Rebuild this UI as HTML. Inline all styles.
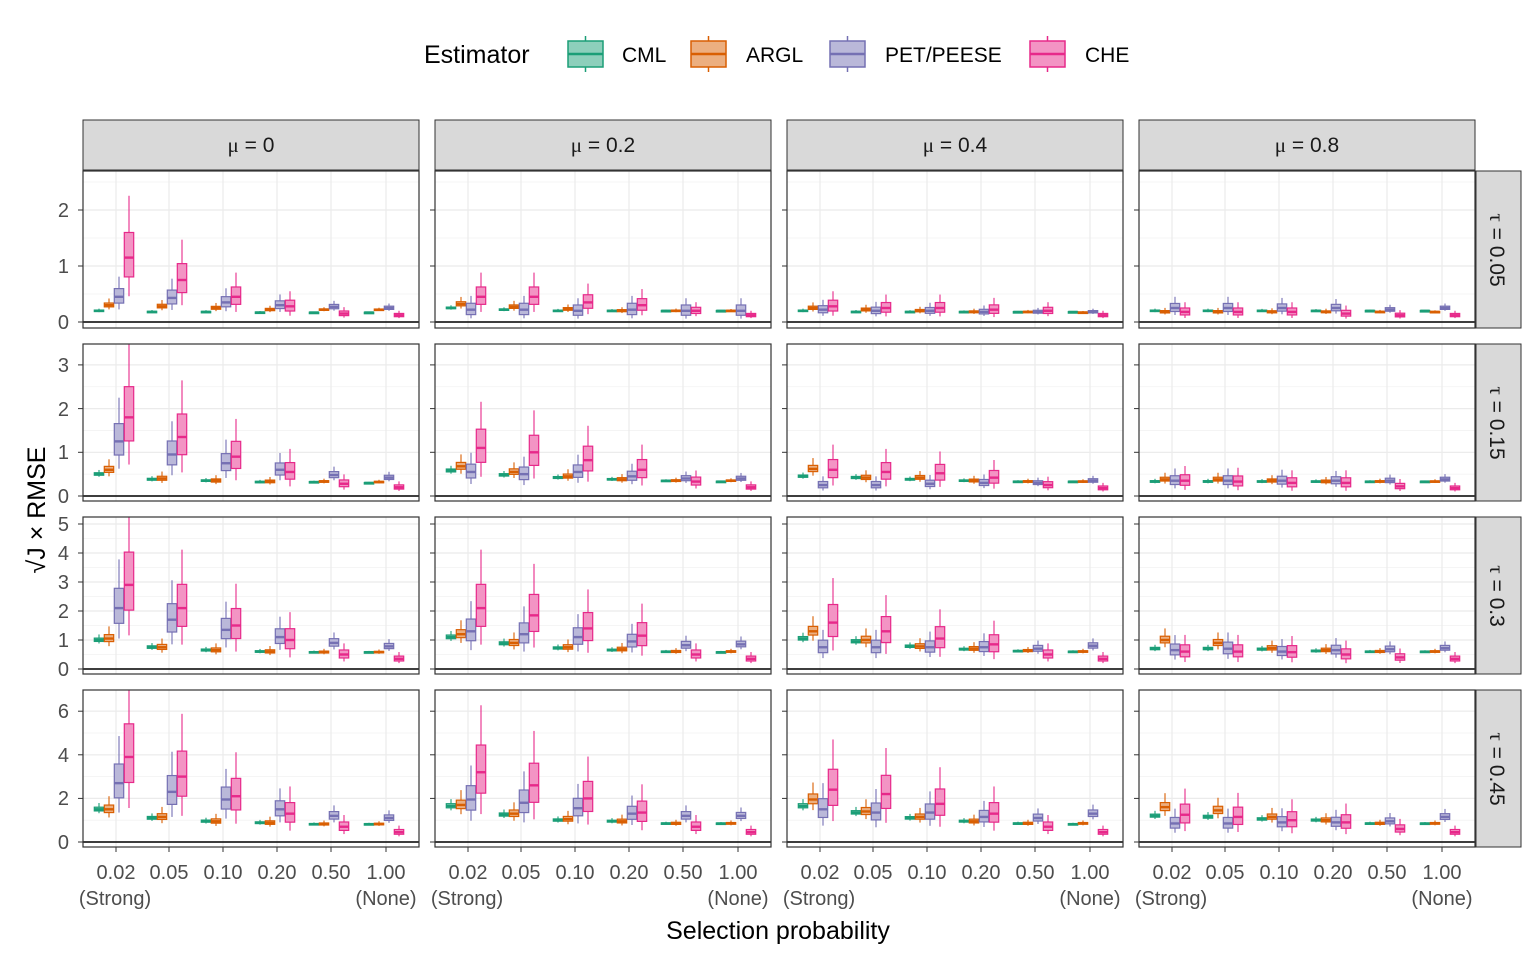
<!DOCTYPE html>
<html><head><meta charset="utf-8">
<style>
html,body{margin:0;padding:0;background:#fff;}
svg{display:block;font-family:"Liberation Sans",sans-serif;}
</style></head>
<body>
<svg id="s" width="1536" height="960" xmlns="http://www.w3.org/2000/svg">
<rect width="1536" height="960" fill="#fff"/>
<defs id="defs"></defs>
<g id="grid"></g>
<g id="boxes"></g>
<g id="frames"></g>
<!-- legend -->
<text x="424" y="63" font-size="25" fill="#000">Estimator</text>
<g stroke-width="1.5">
<rect x="568" y="41" width="35" height="26" fill="#8dcfbb" stroke="#1b9e77"/><line x1="568" y1="54" x2="603" y2="54" stroke="#1b9e77" stroke-width="2.5"/><line x1="585.5" y1="36" x2="585.5" y2="41" stroke="#1b9e77"/><line x1="585.5" y1="67" x2="585.5" y2="72" stroke="#1b9e77"/>
<rect x="691" y="41" width="35" height="26" fill="#ecaf80" stroke="#d95f02"/><line x1="691" y1="54" x2="726" y2="54" stroke="#d95f02" stroke-width="2.5"/><line x1="708.5" y1="36" x2="708.5" y2="41" stroke="#d95f02"/><line x1="708.5" y1="67" x2="708.5" y2="72" stroke="#d95f02"/>
<rect x="830" y="41" width="35" height="26" fill="#bab8d9" stroke="#7570b3"/><line x1="830" y1="54" x2="865" y2="54" stroke="#7570b3" stroke-width="2.5"/><line x1="847.5" y1="36" x2="847.5" y2="41" stroke="#7570b3"/><line x1="847.5" y1="67" x2="847.5" y2="72" stroke="#7570b3"/>
<rect x="1030" y="41" width="35" height="26" fill="#f394c4" stroke="#e7298a"/><line x1="1030" y1="54" x2="1065" y2="54" stroke="#e7298a" stroke-width="2.5"/><line x1="1047.5" y1="36" x2="1047.5" y2="41" stroke="#e7298a"/><line x1="1047.5" y1="67" x2="1047.5" y2="72" stroke="#e7298a"/>
</g>
<g font-size="21" fill="#000">
<text x="622" y="62">CML</text><text x="746" y="62">ARGL</text><text x="885" y="62">PET/PEESE</text><text x="1085" y="62">CHE</text>
</g>
<!-- strips -->
<g fill="#d9d9d9" stroke="#333" stroke-width="1">
<rect x="83" y="120" width="336" height="50"/><rect x="435" y="120" width="336" height="50"/><rect x="787" y="120" width="336" height="50"/><rect x="1139" y="120" width="336" height="50"/>
<rect x="1476" y="171" width="45" height="157"/><rect x="1476" y="344" width="45" height="157"/><rect x="1476" y="517" width="45" height="157"/><rect x="1476" y="690" width="45" height="157"/>
</g>
<g font-size="21" fill="#1a1a1a" text-anchor="middle">
<text x="251" y="152"><tspan font-family="Liberation Serif,serif">μ</tspan> = 0</text>
<text x="603" y="152"><tspan font-family="Liberation Serif,serif">μ</tspan> = 0.2</text>
<text x="955" y="152"><tspan font-family="Liberation Serif,serif">μ</tspan> = 0.4</text>
<text x="1307" y="152"><tspan font-family="Liberation Serif,serif">μ</tspan> = 0.8</text>
<text transform="translate(1490,250) rotate(90)"><tspan font-family="Liberation Serif,serif">τ</tspan> = 0.05</text>
<text transform="translate(1490,423) rotate(90)"><tspan font-family="Liberation Serif,serif">τ</tspan> = 0.15</text>
<text transform="translate(1490,596) rotate(90)"><tspan font-family="Liberation Serif,serif">τ</tspan> = 0.3</text>
<text transform="translate(1490,769) rotate(90)"><tspan font-family="Liberation Serif,serif">τ</tspan> = 0.45</text>
</g>
<g font-size="20" fill="#4d4d4d" text-anchor="end">
<text x="69" y="329">0</text><text x="69" y="273">1</text><text x="69" y="217">2</text>
<text x="69" y="503">0</text><text x="69" y="459">1</text><text x="69" y="416">2</text><text x="69" y="372">3</text>
<text x="69" y="676">0</text><text x="69" y="647">1</text><text x="69" y="618">2</text><text x="69" y="589">3</text><text x="69" y="560">4</text><text x="69" y="531">5</text>
<text x="69" y="849">0</text><text x="69" y="805">2</text><text x="69" y="762">4</text><text x="69" y="718">6</text>
</g>
<g font-size="20" fill="#4d4d4d" text-anchor="middle">
<text x="116" y="879">0.02</text><text x="169" y="879">0.05</text><text x="223" y="879">0.10</text><text x="277" y="879">0.20</text><text x="331" y="879">0.50</text><text x="386" y="879">1.00</text>
<text x="468" y="879">0.02</text><text x="521" y="879">0.05</text><text x="575" y="879">0.10</text><text x="629" y="879">0.20</text><text x="683" y="879">0.50</text><text x="738" y="879">1.00</text>
<text x="820" y="879">0.02</text><text x="873" y="879">0.05</text><text x="927" y="879">0.10</text><text x="981" y="879">0.20</text><text x="1035" y="879">0.50</text><text x="1090" y="879">1.00</text>
<text x="1172" y="879">0.02</text><text x="1225" y="879">0.05</text><text x="1279" y="879">0.10</text><text x="1333" y="879">0.20</text><text x="1387" y="879">0.50</text><text x="1442" y="879">1.00</text>
<text x="115" y="905">(Strong)</text><text x="386" y="905">(None)</text>
<text x="467" y="905">(Strong)</text><text x="738" y="905">(None)</text>
<text x="819" y="905">(Strong)</text><text x="1090" y="905">(None)</text>
<text x="1171" y="905">(Strong)</text><text x="1442" y="905">(None)</text>
</g>
<text x="778" y="939" font-size="25" text-anchor="middle" fill="#000">Selection probability</text>
<text transform="translate(45,510) rotate(-90)" font-size="25" text-anchor="middle" fill="#000">√J × RMSE</text>
</svg>
<script>
(function(){
var NS="http://www.w3.org/2000/svg";
function el(p,t,a){var e=document.createElementNS(NS,t);for(var k in a)e.setAttribute(k,a[k]);p.appendChild(e);return e;}
var grid=document.getElementById('grid'),boxes=document.getElementById('boxes'),fr=document.getElementById('frames'),defs=document.getElementById('defs');
var cols=[83,435,787,1139],W=336;
var tops=[171,344,517,690],bots=[328,501,674,847],zero=[322,496,669,842],sc=[56,43.7,29,21.8];
var maj=[[0,1,2],[0,1,2,3],[0,1,2,3,4,5],[0,2,4,6]],minstep=[0.5,0.5,0.5,1];
var gx=[31,84,138,192,246,301];
var D=[
[[[.2,.18,.18,.17,.17,.17],[.3,.28,.25,.22,.22,.22],[.45,.43,.35,.3,.27,.25],[1.15,.75,.45,.28,.15,.12]],
 [[.25,.22,.2,.2,.2,.2],[.32,.27,.23,.2,.2,.2],[.22,.22,.2,.22,.2,.2],[.45,.45,.35,.3,.2,.12]],
 [[.2,.18,.18,.18,.18,.18],[.25,.22,.2,.18,.18,.17],[.22,.2,.2,.18,.18,.18],[.28,.25,.25,.22,.2,.12]],
 [[.2,.2,.2,.2,.2,.2],[.18,.18,.18,.18,.18,.18],[.25,.25,.25,.25,.22,.25],[.18,.18,.18,.15,.12,.12]]],
[[[.5,.38,.35,.32,.32,.3],[.6,.4,.35,.33,.33,.32],[1.25,.95,.75,.6,.48,.42],[1.8,1.35,.9,.55,.28,.2]],
 [[.58,.48,.42,.38,.35,.33],[.68,.55,.45,.38,.35,.35],[.55,.5,.55,.45,.4,.4],[1.1,1.0,.82,.6,.33,.2]],
 [[.45,.42,.38,.35,.33,.33],[.62,.42,.42,.35,.33,.33],[.25,.25,.28,.3,.3,.35],[.6,.55,.52,.42,.25,.18]],
 [[.33,.33,.33,.33,.33,.33],[.38,.38,.35,.33,.33,.33],[.35,.35,.35,.35,.35,.38],[.35,.33,.3,.3,.22,.18]]],
[[[1.0,.75,.65,.6,.58,.58],[1.05,.75,.65,.6,.58,.58],[2.1,1.7,1.35,1.1,.9,.78],[2.9,2.1,1.5,1.0,.5,.35]],
 [[1.1,.88,.72,.65,.6,.58],[1.2,.9,.75,.68,.6,.6],[1.3,1.2,1.1,.95,.82,.85],[2.1,1.85,1.4,1.15,.5,.35]],
 [[1.05,.95,.78,.68,.62,.6],[1.3,1.0,.78,.7,.63,.6],[.75,.75,.75,.75,.7,.8],[1.6,1.3,1.05,.85,.5,.35]],
 [[.7,.7,.68,.62,.6,.6],[1.0,.9,.72,.65,.6,.6],[.65,.7,.6,.65,.68,.72],[.6,.6,.58,.5,.4,.35]]],
[[[1.5,1.1,.95,.88,.82,.82],[1.5,1.15,.95,.88,.82,.82],[2.7,2.3,1.95,1.5,1.2,1.1],[3.9,3.0,2.1,1.3,.7,.45]],
 [[1.65,1.25,1.0,.95,.85,.85],[1.7,1.3,1.05,.95,.85,.85],[1.95,1.8,1.55,1.3,1.2,1.2],[3.2,2.6,2.0,1.35,.7,.45]],
 [[1.65,1.35,1.1,.95,.85,.82],[1.95,1.4,1.15,.95,.85,.85],[1.5,1.35,1.35,1.15,1.1,1.3],[2.4,2.2,1.75,1.3,.7,.45]],
 [[1.2,1.15,1.05,1.0,.85,.85],[1.6,1.45,1.15,1.0,.85,.85],[.85,.85,.9,.9,.95,1.15],[1.25,1.15,1.0,.9,.6,.45]]]];
var stroke=["#1b9e77","#d95f02","#7570b3","#e7298a"],fill=["#8dcfbb","#ecaf80","#bab8d9","#f394c4"];
var S=[.05,.1,.25,.3],Wk=[.12,.25,.5,.6];
var gf=[[1,1,.9,.8,.5,.4],[1,1,.9,.8,.5,.4],[1,1,.9,.8,.5,.4],[1,1,1,1,.8,.7]];
var off=[-15,-5,5,15];
var id=0;
for(var r=0;r<4;r++)for(var c=0;c<4;c++){
 var L=cols[c],T=tops[r],B=bots[r];
 var yv=function(v){return zero[r]-v*sc[r];};
 var cp=el(defs,'clipPath',{id:'c'+id});el(cp,'rect',{x:L,y:T,width:W,height:B-T});
 var pg=el(boxes,'g',{'clip-path':'url(#c'+id+')'});id++;
 el(grid,'rect',{x:L,y:T,width:W,height:B-T,fill:'#fff'});
 var top=(zero[r]-T)/sc[r];
 for(var v=-minstep[r];v<top;v+=minstep[r]){var y=yv(v);if(y>T&&y<B)el(grid,'line',{x1:L,x2:L+W,y1:y,y2:y,stroke:'#f2f2f2','stroke-width':0.8});}
 maj[r].forEach(function(v){var y=yv(v);el(grid,'line',{x1:L,x2:L+W,y1:y,y2:y,stroke:'#ebebeb','stroke-width':1.2});el(fr,'line',{x1:L-5,x2:L,y1:y,y2:y,stroke:'#333','stroke-width':1});});
 gx.forEach(function(g){el(grid,'line',{x1:L+g+2,x2:L+g+2,y1:T,y2:B,stroke:'#ebebeb','stroke-width':1.2});if(r==3)el(fr,'line',{x1:L+g+2,x2:L+g+2,y1:B,y2:B+5,stroke:'#333'});});
 el(grid,'line',{x1:L,x2:L+W,y1:zero[r],y2:zero[r],stroke:'#000','stroke-width':1.5});
 for(var e=0;e<4;e++)for(var g=0;g<6;g++){
  var m=D[r][c][e][g],s=S[e]*gf[e][g],w=Wk[e]*gf[e][g];
  if(c==1&&r==0&&e==2){s=.4;w=.7;}
  var q1=m*(1-s),q3=m*(1+1.3*s),lo=m*(1-w),hi=m*(1+1.6*w);
  var x=L+gx[g]+off[e];
  el(pg,'line',{x1:x,x2:x,y1:yv(hi),y2:yv(lo),stroke:stroke[e],'stroke-width':1.1});
  el(pg,'rect',{x:x-4.7,y:yv(q3),width:9.4,height:Math.max(yv(q1)-yv(q3),1.5),fill:fill[e],stroke:stroke[e],'stroke-width':1.2});
  el(pg,'line',{x1:x-4.7,x2:x+4.7,y1:yv(m),y2:yv(m),stroke:stroke[e],'stroke-width':2.4});
 }
 el(fr,'rect',{x:L,y:T,width:W,height:B-T,fill:'none',stroke:'#333','stroke-width':1.2});
}
})();
</script>
</body></html>
